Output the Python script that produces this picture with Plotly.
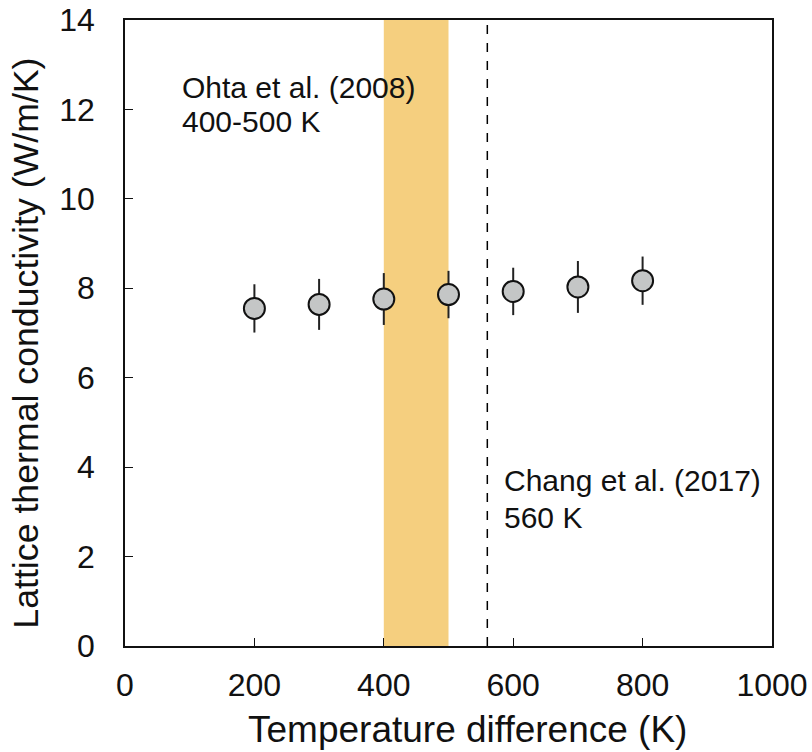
import plotly.graph_objects as go

temps = [200, 300, 400, 500, 600, 700, 800]
kappa = [7.55, 7.64, 7.76, 7.86, 7.93, 8.03, 8.17]
kappa_err = [0.54, 0.57, 0.58, 0.53, 0.53, 0.58, 0.54]
band_range = [400, 500]
chang_temp = 560

FONT = "Liberation Sans, Arial"

fig = go.Figure()
fig.add_vrect(x0=band_range[0], x1=band_range[1], fillcolor="#f5cf7f", opacity=1, line_width=0, layer="below")
fig.add_vline(x=chang_temp, line=dict(color="black", width=1.5, dash="dash"))
fig.add_trace(go.Scatter(
    x=temps, y=kappa, mode="markers",
    error_y=dict(type="data", array=kappa_err, color="#222", thickness=2, width=0),
    marker=dict(size=21, color="#c4c6c6", line=dict(color="#111", width=2)),
    showlegend=False,
))

def label(x, y, text):
    fig.add_annotation(x=x, y=y, xref="paper", yref="y", text=text,
                       showarrow=False, xanchor="left", yanchor="middle", align="left",
                       font=dict(size=30, family=FONT, color="#111"))

label(0.085, 12.50, "Ohta et al. (2008)")
label(0.085, 11.72, "400-500 K")
label(0.583, 3.71, "Chang et al. (2017)")
label(0.583, 2.885, "560 K")

# axis titles
fig.add_annotation(x=0.530, y=-0.1326, xref="paper", yref="paper", text="Temperature difference (K)",
                   showarrow=False, xanchor="center", yanchor="middle",
                   font=dict(size=37, family=FONT, color="#111"))
fig.add_annotation(x=-0.153, y=0.483, xref="paper", yref="paper", text="Lattice thermal conductivity (W/m/K)",
                   showarrow=False, xanchor="center", yanchor="middle", textangle=-90,
                   font=dict(size=35.7, family=FONT, color="#111"))

fig.update_layout(
    width=812, height=752,
    margin=dict(l=125, r=40, t=20, b=106),
    plot_bgcolor="white", paper_bgcolor="white",
    font=dict(family=FONT, color="#111", size=32),
    xaxis=dict(range=[0, 1000], tickvals=[0, 200, 400, 600, 800, 1000], ticks="inside", ticklen=8,
               tickcolor="#111", showline=True, linecolor="#111", linewidth=1.5, mirror=True,
               showgrid=False, zeroline=False, ticklabelstandoff=10, automargin=False),
    yaxis=dict(range=[0, 14], tickvals=list(range(0, 15, 2)), ticks="inside", ticklen=8,
               tickcolor="#111", showline=True, linecolor="#111", linewidth=1.5, mirror=True,
               showgrid=False, zeroline=False, ticklabelstandoff=22, automargin=False),
)
fig.write_html("out.html")
